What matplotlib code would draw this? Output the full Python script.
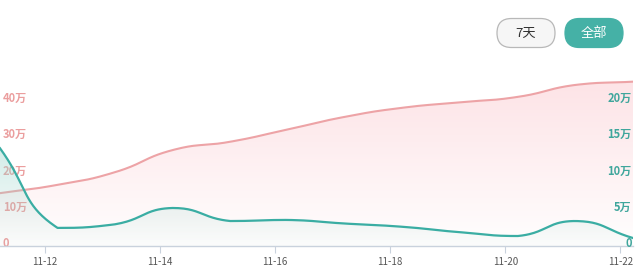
import numpy as np
import matplotlib
matplotlib.use("Agg")
import matplotlib.pyplot as plt
import matplotlib.transforms as mtransforms
from matplotlib.patches import FancyBboxPatch

plt.rcParams['font.family'] = ['Noto Sans CJK SC', 'DejaVu Sans']

# daily points (day of November, sampled a bit after midnight)
days = [11.22, 12.22, 13.22, 14.22, 15.22, 16.22, 17.22, 18.22, 19.22, 20.22, 21.22, 22.22]
# left axis series, unit: 万
total = [14.6, 16.9, 20.4, 26.5, 28.8, 32.2, 35.7, 38.2, 39.7, 41.2, 44.5, 45.4]
# right axis series, unit: 万
daily = [13.5, 2.5, 3.0, 5.25, 3.45, 3.6, 3.1, 2.65, 1.9, 1.38, 3.45, 1.1]

x_ticks = [12, 14, 16, 18, 20, 22]
x_labels = ["11-12", "11-14", "11-16", "11-18", "11-20", "11-22"]
left_ticks = [0, 10, 20, 30, 40]
left_labels = ["0", "10万", "20万", "30万", "40万"]
right_ticks = [0, 5, 10, 15, 20]
right_labels = ["0", "5万", "10万", "15万", "20万"]

PINK = "#eda3a6"
TEAL = "#3aada3"


def smooth(xs, ys, sx, sy, k=0.5, n=40):
    # echarts-like bezier smoothing, control points clamped to neighbours
    px = np.asarray(xs, float)
    py = np.asarray(ys, float)
    cnt = len(px)
    cin, cout = [], []
    for i in range(cnt):
        pi = max(i - 1, 0)
        ni = min(i + 1, cnt - 1)
        dx = px[ni] - px[pi]
        dy = py[ni] - py[pi]
        lp = np.hypot((px[i] - px[pi]) * sx, (py[i] - py[pi]) * sy)
        ln = np.hypot((px[ni] - px[i]) * sx, (py[ni] - py[i]) * sy)
        r = ln / (lp + ln) if lp + ln > 0 else 0.5
        ix, iy = px[i] - dx * k * (1 - r), py[i] - dy * k * (1 - r)
        ox, oy = px[i] + dx * k * r, py[i] + dy * k * r
        ix = np.clip(ix, min(px[i], px[pi]), max(px[i], px[pi]))
        iy = np.clip(iy, min(py[i], py[pi]), max(py[i], py[pi]))
        ox = np.clip(ox, min(px[i], px[ni]), max(px[i], px[ni]))
        oy = np.clip(oy, min(py[i], py[ni]), max(py[i], py[ni]))
        cin.append((ix, iy))
        cout.append((ox, oy))
    t = np.linspace(0, 1, n, endpoint=False)
    bx, by = [], []
    for i in range(cnt - 1):
        p0 = (px[i], py[i])
        p1 = cout[i]
        p2 = cin[i + 1]
        p3 = (px[i + 1], py[i + 1])
        a, b, c, d = (1 - t)**3, 3 * (1 - t)**2 * t, 3 * (1 - t) * t**2, t**3
        bx.append(a * p0[0] + b * p1[0] + c * p2[0] + d * p3[0])
        by.append(a * p0[1] + b * p1[1] + c * p2[1] + d * p3[1])
    bx.append([px[-1]])
    by.append([py[-1]])
    return np.concatenate(bx), np.concatenate(by)


def gradient_fill(ax, xs, ys, top_rgb, top_alpha, zorder):
    poly = ax.fill_between(xs, ys, 0, color="none", lw=0)
    ymax = max(ys)
    grad = np.zeros((100, 1, 4))
    grad[:, 0, :3] = top_rgb
    grad[:, 0, 3] = np.linspace(top_alpha, 0.03, 100)
    img = ax.imshow(grad, aspect="auto", origin="upper",
                    extent=[xs[0], xs[-1], 0, ymax], zorder=zorder)
    img.set_clip_path(poly.get_paths()[0], transform=ax.transData)


fig = plt.figure(figsize=(6.4, 2.72), dpi=100)
ax = fig.add_axes([0, 26 / 272, 633 / 640, 181 / 272])
ax2 = ax.twinx()
ax2.patch.set_visible(False)

ax.set_xlim(days[0], days[-1])
ax.set_ylim(0, 50)
ax2.set_ylim(0, 25)

# rough pixel scale per unit, used for segment lengths in smoothing
sx, sy = smooth(days, total, 58, 3.62)
tx, ty = smooth(days, daily, 58, 7.24)

gradient_fill(ax, sx, sy, (0.99, 0.82, 0.84), 0.6, 1)
ax.plot(sx, sy, color=PINK, lw=1.5, zorder=3)

gradient_fill(ax2, tx, ty, (0.62, 0.84, 0.80), 0.45, 1)
ax2.plot(tx, ty, color=TEAL, lw=1.6, zorder=3)

for a in (ax, ax2):
    for s in a.spines.values():
        s.set_visible(False)
ax.spines['bottom'].set_visible(True)
ax.spines['bottom'].set_color("#c9d2dd")
ax.spines['bottom'].set_linewidth(1)

ax.set_xticks(x_ticks)
ax.set_xticklabels(x_labels, fontsize=7, color="#555555")
ax.tick_params(axis='x', length=5, color="#c9d2dd", pad=3)

shift = mtransforms.ScaledTranslation(0, 3 / 72, fig.dpi_scale_trans)

ax.set_yticks(left_ticks)
ax.set_yticklabels(left_labels, fontsize=8, color="#eb9e9e", fontweight="bold")
ax.tick_params(axis='y', length=0, pad=-2)
for lab in ax.get_yticklabels():
    lab.set_horizontalalignment("left")
    lab.set_transform(lab.get_transform() + shift)

ax2.set_yticks(right_ticks)
ax2.set_yticklabels(right_labels, fontsize=8, color="#3fa69c", fontweight="bold")
ax2.tick_params(axis='y', length=0, pad=-1)
for lab in ax2.get_yticklabels():
    lab.set_horizontalalignment("right")
    lab.set_transform(lab.get_transform() + shift)

# buttons, in an overlay axes measured in pixels from the top-left
ov = fig.add_axes([0, 0, 1, 1])
ov.set_xlim(0, 640)
ov.set_ylim(272, 0)
ov.axis("off")
ov.patch.set_visible(False)

ov.add_patch(FancyBboxPatch((497, 18.5), 58, 29, boxstyle="round,pad=0,rounding_size=14.5",
                            facecolor="#f6f6f6", edgecolor="#b8b8b8", lw=0.9))
ov.text(526, 33, "7天", ha="center", va="center", fontsize=9.5, color="#333333")
ov.add_patch(FancyBboxPatch((565, 18.5), 58, 29, boxstyle="round,pad=0,rounding_size=14.5",
                            facecolor="#45b1a6", edgecolor="#45b1a6", lw=0.9))
ov.text(594, 33, "全部", ha="center", va="center", fontsize=9.5, color="white")

fig.savefig("out.png", dpi=100)
